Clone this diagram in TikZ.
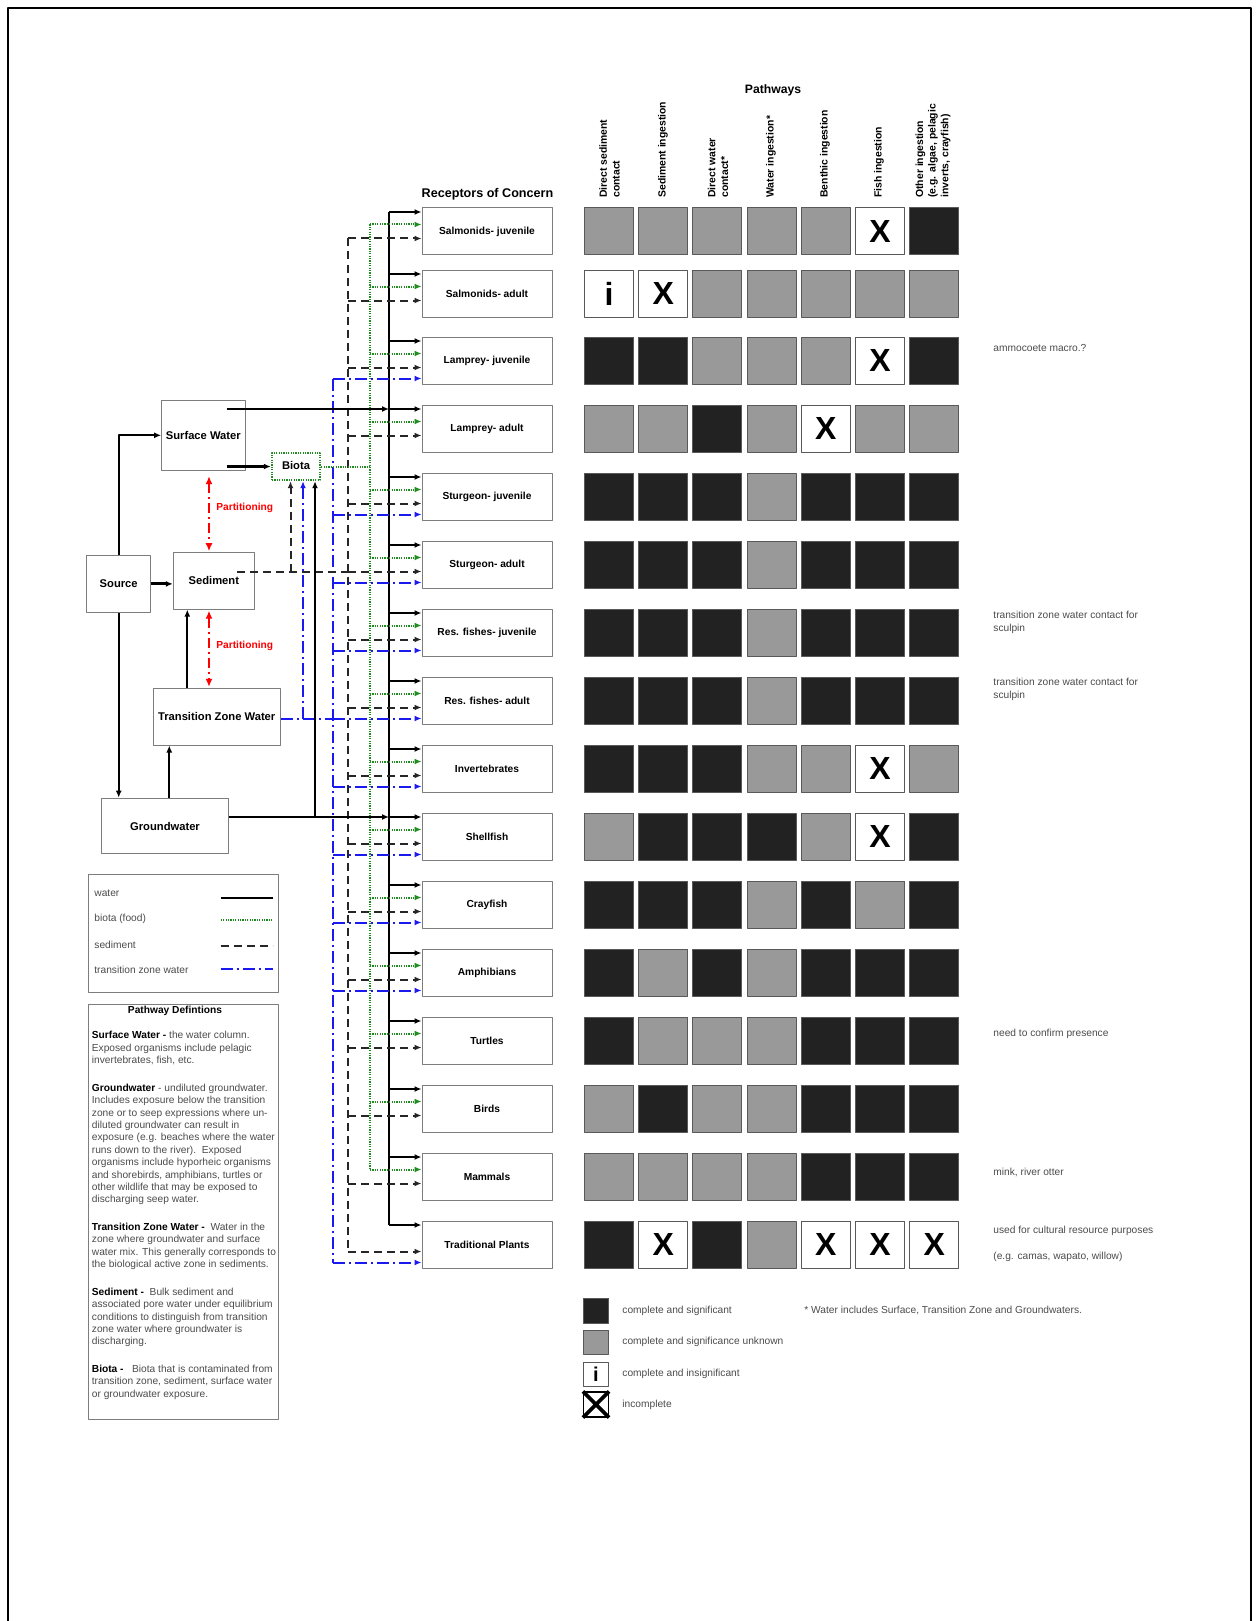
\documentclass[tikz,border=0pt]{standalone}
\usepackage{fontspec}
\setmainfont{Liberation Sans}
\usetikzlibrary{arrows.meta}
\definecolor{dk}{RGB}{34,34,34}
\definecolor{gy}{RGB}{153,153,153}
\definecolor{boxgray}{RGB}{125,125,125}
\definecolor{fgreen}{RGB}{30,140,30}
\definecolor{tblue}{RGB}{25,25,240}
\definecolor{txt}{RGB}{75,75,75}
\newcommand\defhead[1]{{\color{black}\bfseries #1}}
\begin{document}
\begin{tikzpicture}[x=.5pt,y=-.5pt,line join=round,>={Latex[length=3.5pt,width=3pt]},
    font=\fontsize{5.1}{6.2}\selectfont,
    box/.style={draw=boxgray,line width=.5pt,inner sep=0pt,font=\fontsize{5.6}{6.7}\selectfont\bfseries},
    rec/.style={draw=boxgray,line width=.5pt,minimum width=65pt,minimum height=23.5pt,inner sep=0pt,font=\fontsize{5.1}{6.2}\selectfont\bfseries},
    cell/.style={draw=black!65,line width=.5pt,minimum width=24.5pt,minimum height=23.5pt,inner sep=0pt},
    cellD/.style={fill=dk},
    cellG/.style={fill=gy},
    cellX/.style={fill=white,label={[xmark]center:X}},
    celli/.style={fill=white,label={[xmark]center:i}},
    xmark/.style={inner sep=0pt,font=\fontsize{16}{16}\selectfont\bfseries},
    wline/.style={line width=.9pt},
    bline/.style={fgreen,line width=1pt,dash pattern=on .6pt off .6pt},
    sline/.style={black!85,line width=1pt,dash pattern=on 4pt off 2.5pt},
    tline/.style={tblue,line width=1pt,dash pattern=on 6pt off 2pt on 1pt off 2pt},
    pline/.style={red,line width=1pt,dash pattern=on 5pt off 2pt on 1pt off 2pt,>={Latex[length=4pt,width=3.5pt]}},
    note/.style={anchor=west,inner sep=0pt,text=txt},
    hdr/.style={rotate=90,anchor=west,align=left,inner sep=0pt,font=\fontsize{5.2}{6.3}\selectfont\bfseries}]
\useasboundingbox (0,0) rectangle (1259,1621);
\draw[line width=.7pt] (8,1621) -- (8,8) -- (1251,8) -- (1251,1621);

\path
 (773,90) node[font=\fontsize{6.1}{7}\selectfont\bfseries] (PW) {Pathways}
 (487.5,194) node[font=\fontsize{6.3}{7.5}\selectfont\bfseries] (RC) {Receptors of Concern};
\node[hdr] (H1) at (609.5,198) {Direct sediment\\contact};
\node[hdr] (H2) at (663,198) {Sediment ingestion};
\node[hdr] (H3) at (718,198) {Direct water\\contact*};
\node[hdr] (H4) at (771,198) {Water ingestion*};
\node[hdr] (H5) at (825,198) {Benthic ingestion};
\node[hdr] (H6) at (879,198) {Fish ingestion};
\node[hdr] (H7) at (933,198) {Other ingestion\\(e.g. algae, pelagic\\inverts, crayfish)};

\foreach \t/\lab [count=\i] in {208/Salmonids- juvenile,270/Salmonids- adult,337/Lamprey- juvenile,
    405/Lamprey- adult,473/Sturgeon- juvenile,541/Sturgeon- adult,609/Res. fishes- juvenile,
    677/Res. fishes- adult,745/Invertebrates,813/Shellfish,881/Crayfish,949/Amphibians,
    1017/Turtles,1085/Birds,1153/Mammals,1221/Traditional Plants}{
  \node[rec] (R\i) at (487,\t+23.5) {\lab};
  \coordinate (k\i) at (389,\t+4);
  \coordinate (g\i) at (370,\t+16.5);
  \coordinate (s\i) at (348,\t+30.5);
  \coordinate (u\i) at (333,\t+41.5);
}

\foreach \t/\cells [count=\i] in {208/{G,G,G,G,G,X,D},270/{i,X,G,G,G,G,G},337/{D,D,G,G,G,X,D},
    405/{G,G,D,G,X,G,G},473/{D,D,D,G,D,D,D},541/{D,D,D,G,D,D,D},609/{D,D,D,G,D,D,D},
    677/{D,D,D,G,D,D,D},745/{D,D,D,G,G,X,G},813/{G,D,D,D,G,X,D},881/{D,D,D,G,D,G,D},
    949/{D,G,D,G,D,D,D},1017/{D,G,G,G,D,D,D},1085/{G,D,G,G,D,D,D},1153/{G,G,G,G,D,D,D},
    1221/{D,X,D,G,X,X,X}}{
  \foreach \c [count=\j] in \cells
    \node[cell,cell\c] (C\i-\j) at ({609+54.2*(\j-1)},\t+23.5) {};
}

\path
 (993,348) node[note] (N3) {ammocoete macro.?}
 (993,622.5) node[note,align=left] (N7) {transition zone water contact for\\sculpin}
 (993,689.5) node[note,align=left] (N8) {transition zone water contact for\\sculpin}
 (993,1034) node[note] (N13) {need to confirm presence}
 (993,1172) node[note] (N15) {mink, river otter}
 (993,1231) node[note] (N16) {used for cultural resource purposes}
 (993,1257) node[note] (N16b) {(e.g. camas, wapato, willow)};

\node[box,minimum width=41.7pt,minimum height=35.3pt] (SW) at (203.3,435.3) {Surface Water};
\node[box,draw=fgreen,line width=1.2pt,dash pattern=on .6pt off .6pt,minimum width=24pt,minimum height=13.5pt] (Bio) at (296,466.5) {\raisebox{1.5pt}{Biota}};
\node[box,minimum width=32pt,minimum height=28.8pt] (Src) at (118.7,583.9) {Source};
\node[box,minimum width=40.5pt,minimum height=28.2pt] (Sed) at (213.8,580.9) {Sediment};
\node[box,minimum width=63.3pt,minimum height=28.3pt] (TZW) at (216.7,716.7) {Transition Zone Water};
\node[box,minimum width=63.3pt,minimum height=27.8pt] (GW) at (165,826) {Groundwater};

\coordinate (pa) at (209,0);
\coordinate (gx) at (169.3,0);
\coordinate (tx) at (187.3,0);
\coordinate (sw0) at ([xshift=-9.5pt]SW.east);
\coordinate (sd0) at ([xshift=-8.8pt]Sed.east);
\coordinate (bs) at ([xshift=-2.75pt]Bio.south);
\coordinate (bt) at ([xshift=3.5pt]Bio.south);
\coordinate (bw) at ([xshift=9.5pt]Bio.south);

\draw[pline,<->,shorten <=2.5pt,shorten >=.5pt] (SW.south -| pa) -- (Sed.north -| pa);
\draw[pline,<->,shorten <=.5pt,shorten >=.5pt] (Sed.south -| pa) -- (TZW.north -| pa);
\path
 (216,508) node[anchor=west,inner sep=0pt,text=red,font=\fontsize{5.1}{6.2}\selectfont\bfseries] (P1) {Partitioning}
 (216,646) node[anchor=west,inner sep=0pt,text=red,font=\fontsize{5.1}{6.2}\selectfont\bfseries] (P2) {Partitioning};

\draw[wline,line width=1.1pt,->] (Src.north) |- (SW.west);
\draw[wline,line width=1.1pt,->] (Src.south) -- (Src.south |- GW.north);
\draw[line width=1.5pt,->] (Src.east) -- (Src.east -| Sed.west);
\draw[wline,->] (GW.north -| gx) -- (TZW.south -| gx);
\draw[wline,->] (TZW.north -| tx) -- (Sed.south -| tx);

\draw[wline] (k1) -- (k16);
\draw[bline] (g1) -- (g15);
\draw[sline] (s1) -- (s16);
\draw[tline] (u3) -- (u16);

\draw[line width=1.4pt,->] (sw0 |- k4) -- (k4);
\draw[line width=1.4pt,->] (sw0 |- Bio.west) -- (Bio.west);
\draw[line width=1.4pt,->] (GW.east |- k10) -- (k10);
\draw[sline] (sd0 |- s6) -- (s6);
\draw[tline] (TZW.east |- u8) -- (u8);
\draw[bline] (Bio.east) -- (Bio.east -| g1);
\draw[sline,->] (bs |- s6) -- (bs);
\draw[tline,->] (bt |- u8) -- (bt);
\draw[wline,->] (bw |- k10) -- (bw);

\foreach \i in {1,...,16} \draw[wline,->] (k\i) -- (k\i -| R\i.west);
\foreach \i in {1,...,15} \draw[bline,->] (g\i) -- (g\i -| R\i.west);
\foreach \i in {1,...,16} \draw[sline,->] (s\i) -- (s\i -| R\i.west);
\foreach \i in {3,5,6,7,8,9,10,11,12,16} \draw[tline,->] (u\i) -- (u\i -| R\i.west);

\draw[boxgray,line width=.5pt] (88.3,874) rectangle (278.3,992.6);
\path
 (94,893) node[note] (Kw) {water}
 (94,919) node[note] (Kb) {biota (food)}
 (94,945) node[note] (Ks) {sediment}
 (94,970) node[note] (Kt) {transition zone water};
\draw[line width=1.2pt] (220.7,897.7) -- +(52,0);
\draw[bline] (220.7,920) -- +(52,0);
\draw[sline] (220.7,946) -- +(52,0);
\draw[tline] (220.7,969.3) -- +(52,0);

\draw[boxgray,line width=.5pt] (88.3,1004) rectangle (278.3,1419.3);
\node[font=\fontsize{5.1}{6.2}\selectfont\bfseries] (PD) at (175,1011) {Pathway Defintions};
\node[anchor=north west,align=left,inner sep=0pt,text=txt,font=\fontsize{5.1}{6.2}\selectfont] (PDtext) at (91.5,1031) {%
\defhead{Surface Water -} the water column.\\
Exposed organisms include pelagic\\
invertebrates, fish, etc.\\[7.6pt]
\defhead{Groundwater} - undiluted groundwater.\\
Includes exposure below the transition\\
zone or to seep expressions where un-\\
diluted groundwater can result in\\
exposure (e.g. beaches where the water\\
runs down to the river).\ \ Exposed\\
organisms include hyporheic organisms\\
and shorebirds, amphibians, turtles or\\
other wildlife that may be exposed to\\
discharging seep water.\\[7.6pt]
\defhead{Transition Zone Water -}\ \ Water in the\\
zone where groundwater and surface\\
water mix. This generally corresponds to\\
the biological active zone in sediments.\\[7.6pt]
\defhead{Sediment -}\ \ Bulk sediment and\\
associated pore water under equilibrium\\
conditions to distinguish from transition\\
zone water where groundwater is\\
discharging.\\[7.6pt]
\defhead{Biota -}\ \ \ Biota that is contaminated from\\
transition zone, sediment, surface water\\
or groundwater exposure.};

\node[cell,cellD,minimum width=12.5pt,minimum height=12.5pt] (L1) at (596,1310.5) {};
\node[cell,cellG,minimum width=12.5pt,minimum height=12pt] (L2) at (596,1342) {};
\node[cell,fill=white,minimum width=12.5pt,minimum height=12pt,font=\fontsize{10}{10}\selectfont\bfseries] (L3) at (596,1374) {i};
\node[cell,draw=black,line width=.6pt,minimum width=12.5pt,minimum height=12.5pt] (L4) at (596,1404.5) {};
\draw[line width=1.8pt] (L4.north west) -- (L4.south east) (L4.north east) -- (L4.south west);
\path
 (622,1310.5) node[note] (T1) {complete and significant}
 (622,1342) node[note] (T2) {complete and significance unknown}
 (622,1374) node[note] (T3) {complete and insignificant}
 (622,1404.5) node[note] (T4) {incomplete}
 (804,1310.5) node[note] (FN) {* Water includes Surface, Transition Zone and Groundwaters.};
\end{tikzpicture}
\end{document}
